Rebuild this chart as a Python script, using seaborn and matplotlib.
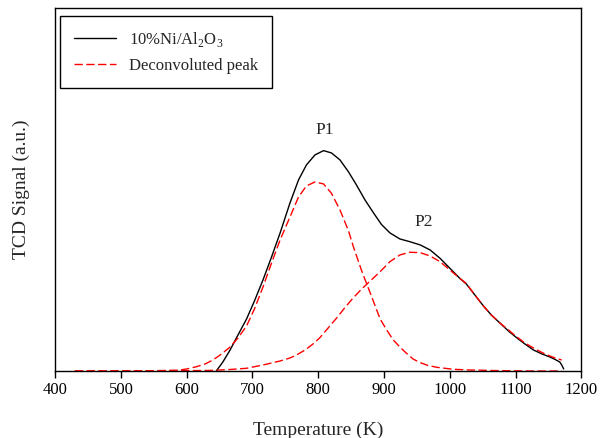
import numpy as np
import pandas as pd
import seaborn as sns
import matplotlib
matplotlib.use("Agg")
import matplotlib.pyplot as plt

# Total TCD signal (black solid)
temp_total = [645, 655, 666, 678, 691, 703, 716, 729, 742, 757, 770, 782, 795, 808,
              820, 833, 846, 858, 871, 884, 896, 909, 924, 939, 955, 970, 985, 1000,
              1015, 1025, 1038, 1051, 1063, 1076, 1089, 1102, 1114, 1127, 1140, 1152,
              1160, 1167, 1170, 1173]
signal_total = [0, 9, 21, 36, 52, 70, 91, 114, 138, 168, 191, 206, 216, 220.3,
                218, 211, 199, 186, 171, 158, 146.5, 138, 132, 129.3, 126, 121, 112.7, 102.7,
                92.7, 87, 76, 65, 56, 48, 40, 33, 27, 21, 17, 14,
                11.5, 9, 6, 2]

# Deconvoluted peak P1 (red dashed)
temp_p1 = [430, 500, 550, 588, 600, 615, 628, 640, 653, 666, 678, 691, 703, 716, 729,
           742, 757, 770, 782, 795, 808, 820, 833, 846, 853, 866, 879, 894, 904, 914,
           924, 934, 944, 955, 967, 980, 1005, 1030, 1070, 1120, 1170]
signal_p1 = [0, 0, 0.3, 0.8, 2, 4.3, 7, 11, 17, 24, 33, 45, 62, 84, 108,
             131, 154, 174, 185, 189, 187, 177.7, 161, 140, 125, 100, 78, 52, 41, 31,
             24, 17.7, 12, 8.3, 5.5, 3.7, 1.7, 1, 0.4, 0, 0]

# Deconvoluted peak P2 (red dashed)
temp_p2 = [430, 600, 640, 666, 691, 716, 742, 757, 767, 780, 792, 802, 815, 828, 840,
           853, 866, 879, 894, 909, 924, 939, 955, 970, 985, 1000, 1015, 1025, 1038,
           1051, 1063, 1076, 1089, 1102, 1114, 1127, 1140, 1152, 1160, 1170]
signal_p2 = [0, 0.3, 0.6, 1.5, 2.7, 6, 10, 13, 16, 21, 27, 33, 43, 53, 63,
             73, 82, 90, 99.3, 109.3, 116, 118.7, 118.3, 115, 109.3, 101, 92.7, 87.5, 76,
             65, 56, 48, 41, 34, 28, 23, 18.5, 15, 13, 11]

x_ticks = [400, 500, 600, 700, 800, 900, 1000, 1100, 1200]

sns.set_style("ticks")
plt.rcParams['font.family'] = ['Liberation Serif', 'DejaVu Serif']
plt.rcParams['mathtext.fontset'] = 'custom'
plt.rcParams['mathtext.rm'] = 'Liberation Serif'

fig = plt.figure(figsize=(6, 4.38), dpi=100)
ax = fig.add_axes([0.0918, 0.153, 0.8773, 0.829])

dash = (0, (6, 2.5))
sns.lineplot(x=temp_total, y=signal_total, ax=ax, color="black", lw=1,
             label=r"10%Ni/Al$_2$O$_3$")
sns.lineplot(x=temp_p1, y=signal_p1, ax=ax, color="red", lw=1, linestyle=dash,
             label="Deconvoluted peak")
sns.lineplot(x=temp_p2, y=signal_p2, ax=ax, color="red", lw=1, linestyle=dash)

ax.text(810, 241, "P1", ha="center", va="center", fontsize=12.5)
ax.text(960, 149, "P2", ha="center", va="center", fontsize=12.5)

ax.set_xlim(400, 1200)
ax.set_ylim(0, 363)
ax.set_xticks(x_ticks)
ax.set_yticks([])
ax.tick_params(axis="x", direction="out", length=5, width=1, pad=3,
               labelsize=12, colors="black")
for s in ax.spines.values():
    s.set_visible(True)
    s.set_color("black")
    s.set_linewidth(1)

ax.set_xlabel("Temperature (K)", fontsize=14, labelpad=17)
ax.set_ylabel("TCD Signal (a.u.)", fontsize=14, labelpad=18)

leg = ax.legend(loc="upper left", bbox_to_anchor=(0.0093, 0.978), borderaxespad=0,
                fontsize=12, fancybox=False, edgecolor="black", framealpha=1,
                borderpad=0.85, labelspacing=0.55, handlelength=2.5, handletextpad=0.8)
leg.get_frame().set_linewidth(1)

fig.savefig("out.png", dpi=100)
